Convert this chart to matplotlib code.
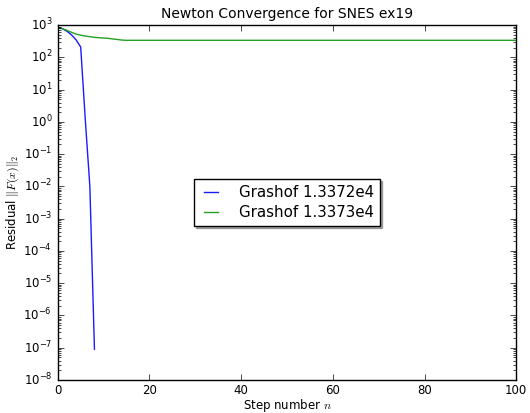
import numpy as np
import matplotlib
matplotlib.use('Agg')
import matplotlib.pyplot as plt

plt.style.use('classic')

# Residual norms
steps_a = [0, 1, 2, 3, 4, 5, 6, 7, 8]
resid_a = [850, 780, 650, 500, 350, 210, 1.2, 1.0e-2, 9.0e-8]

steps_b = list(range(0, 101))
resid_b = [850, 780, 690, 600, 530, 490, 460, 440, 420, 410,
           400, 390, 375, 360, 345] + [340.0] * 86

labels = ['Grashof 1.3372e4', 'Grashof 1.3373e4']

fig = plt.figure(figsize=(5.3, 4.13), dpi=100, facecolor='white')
ax = fig.add_axes([0.109, 0.080, 0.865, 0.859])

ax.semilogy(steps_a, resid_a, color='#1a1aff', lw=1.0, label=labels[0])
ax.semilogy(steps_b, resid_b, color='#22a022', lw=1.0, label=labels[1])

ax.set_xlim(0, 100)
ax.set_ylim(1e-8, 1e3)
ax.set_xticks([0, 20, 40, 60, 80, 100])
ax.set_yticks([10.0**k for k in range(-8, 4)])
ax.tick_params(labelsize=8.5)
ax.tick_params(axis='x', pad=3)

ax.set_title('Newton Convergence for SNES ex19', fontsize=10)
ax.set_xlabel('Step number $n$', fontsize=8.5, labelpad=0)
ax.set_ylabel(r'Residual $\|F(x)\|_2$', fontsize=8.5, labelpad=2)

leg = ax.legend(loc='center', fontsize=10.8,
                shadow={'ox': 1.5, 'oy': -1.5, 'color': '0.35'},
                handlelength=1.5, handletextpad=1.1, labelspacing=0.3)

fig.savefig('out.png', dpi=100, facecolor='white')
